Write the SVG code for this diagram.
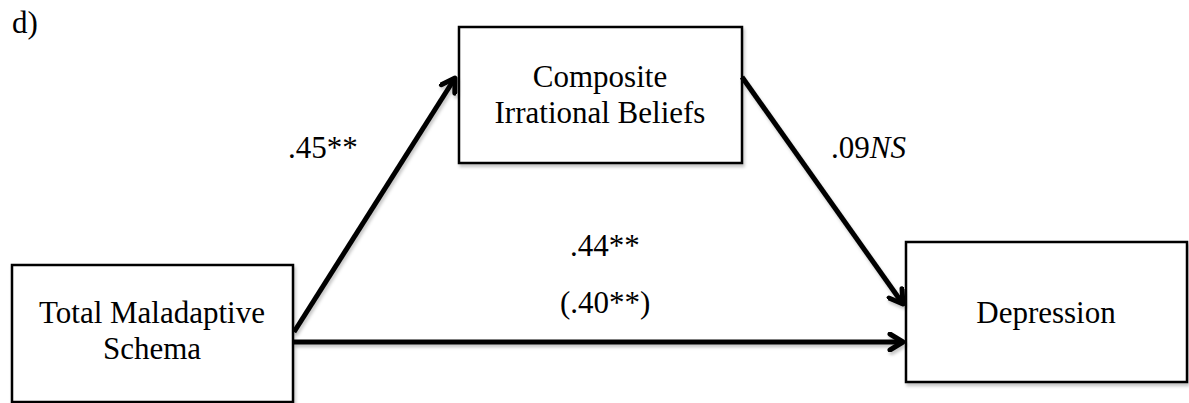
<svg xmlns="http://www.w3.org/2000/svg" width="1189" height="403" viewBox="0 0 1189 403">
<defs>
<style>
text{font-family:"Liberation Serif","Times New Roman",serif;font-size:31px;fill:#000}
.box{fill:#fff;stroke:#000;stroke-width:2.5}
.edge{fill:none;stroke:#000;stroke-width:5;stroke-linecap:butt}
.shadow{filter:url(#sh)}
</style>
<filter id="sh" x="-5%" y="-5%" width="115%" height="120%">
<feDropShadow dx="1.5" dy="3" stdDeviation="1.5" flood-color="#000" flood-opacity="0.22"/>
</filter>
<marker id="arr" viewBox="0 0 20 20" refX="17" refY="10" markerWidth="20" markerHeight="20" orient="auto" markerUnits="userSpaceOnUse">
<path d="M4,2 L17,10 L4,18" fill="none" stroke="#000" stroke-width="5" stroke-linecap="round" stroke-linejoin="round"/>
</marker>
</defs>
<rect width="1189" height="403" fill="#fff"/>
<text x="12" y="33">d)</text>
<g id="node-cib">
<rect class="box shadow" x="459" y="27" width="283" height="136"/>
<text x="600" y="87" text-anchor="middle">Composite</text>
<text x="600" y="123" text-anchor="middle">Irrational Beliefs</text>
</g>
<g id="node-tms">
<rect class="box shadow" x="12" y="265" width="281" height="137"/>
<text x="152" y="323" text-anchor="middle">Total Maladaptive</text>
<text x="152" y="359" text-anchor="middle">Schema</text>
</g>
<g id="node-dep">
<rect class="box shadow" x="906" y="242" width="281" height="140"/>
<text x="1046" y="323" text-anchor="middle">Depression</text>
</g>
<g id="connectors" class="shadow">
<line class="edge" x1="294" y1="332" x2="455" y2="78" marker-end="url(#arr)"/>
<line class="edge" x1="742" y1="77" x2="903" y2="304" marker-end="url(#arr)"/>
<line class="edge" x1="293" y1="342" x2="903" y2="342" marker-end="url(#arr)"/>
</g>
<g id="labels">
<text x="288" y="158">.45**</text>
<text x="831" y="158">.09<tspan font-style="italic">NS</tspan></text>
<text x="570" y="256">.44**</text>
<text x="560" y="313">(.40**)</text>
</g>
</svg>
